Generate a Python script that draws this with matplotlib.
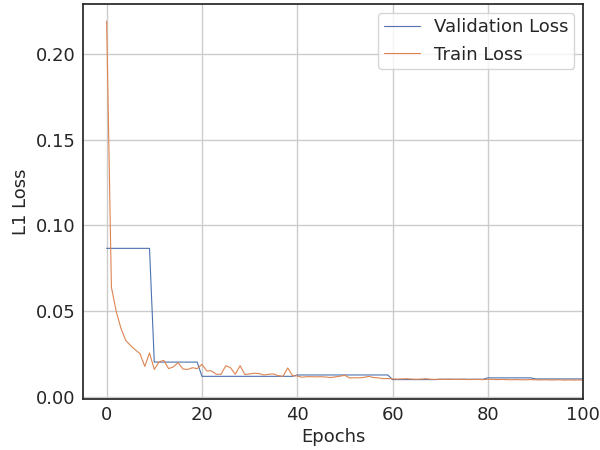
import matplotlib
matplotlib.use("Agg")
import matplotlib.pyplot as plt
import seaborn as sns

# Dados
epochs = list(range(101))

val_loss = (
    [0.0866] * 10 + [0.0203] * 10 + [0.0120] * 20 + [0.0128] * 20
    + [0.0101] * 10 + [0.0103] * 10 + [0.0111] * 10 + [0.0105] * 11
)

train_loss = [
    0.219, 0.064, 0.050, 0.040, 0.033, 0.030, 0.0275, 0.0252, 0.0178, 0.0256,
    0.0160, 0.0204, 0.0213, 0.0165, 0.0175, 0.0200, 0.0163, 0.0160, 0.0170, 0.0165,
    0.0190, 0.0152, 0.0152, 0.0132, 0.0132, 0.0182, 0.0170, 0.0132, 0.0182, 0.0130,
    0.0134, 0.0138, 0.0136, 0.0128, 0.0132, 0.0134, 0.0124, 0.0120, 0.0169, 0.0124,
    0.0122, 0.0115, 0.0118, 0.0118, 0.0117, 0.0118, 0.0116, 0.0113, 0.0117, 0.0121,
    0.0126, 0.0110, 0.0112, 0.0111, 0.0114, 0.0120, 0.0113, 0.0111, 0.0107, 0.0107,
    0.0105, 0.0104, 0.0105, 0.0106, 0.0104, 0.0103, 0.0104, 0.0106, 0.0103, 0.0102,
    0.0103, 0.0102, 0.0103, 0.0102, 0.0102, 0.0103, 0.0101, 0.0102, 0.0102, 0.0101,
    0.0103, 0.0102, 0.0101, 0.0102, 0.0101, 0.0100, 0.0101, 0.0100, 0.0100, 0.0101,
    0.0100, 0.0099, 0.0100, 0.0099, 0.0099, 0.0100, 0.0098, 0.0099, 0.0098, 0.0099,
    0.0098,
]

sns.set_theme(style="whitegrid", rc={"axes.edgecolor": ".15"})
plt.rcParams["font.family"] = ["DejaVu Sans"]

fig, ax = plt.subplots(figsize=(6, 4.5), dpi=100)
ax.plot(epochs, val_loss, color="#4c72b0", lw=0.8, label="Validation Loss")
ax.plot(epochs, train_loss, color="#dd8452", lw=0.8, label="Train Loss")

ax.set_xlim(-5, 100)
ax.set_ylim(-0.0013, 0.229)
ax.set_yticks([0.0, 0.05, 0.10, 0.15, 0.20])
ax.tick_params(labelsize=13, length=0, pad=5)
ax.set_xlabel("Epochs", fontsize=13, labelpad=3)
ax.set_ylabel("L1 Loss", fontsize=13, labelpad=4)
ax.legend(loc="upper right", fontsize=13, borderpad=0.3)

fig.subplots_adjust(left=0.138, right=0.972, top=0.991, bottom=0.113)
fig.savefig("out.png", dpi=100)
